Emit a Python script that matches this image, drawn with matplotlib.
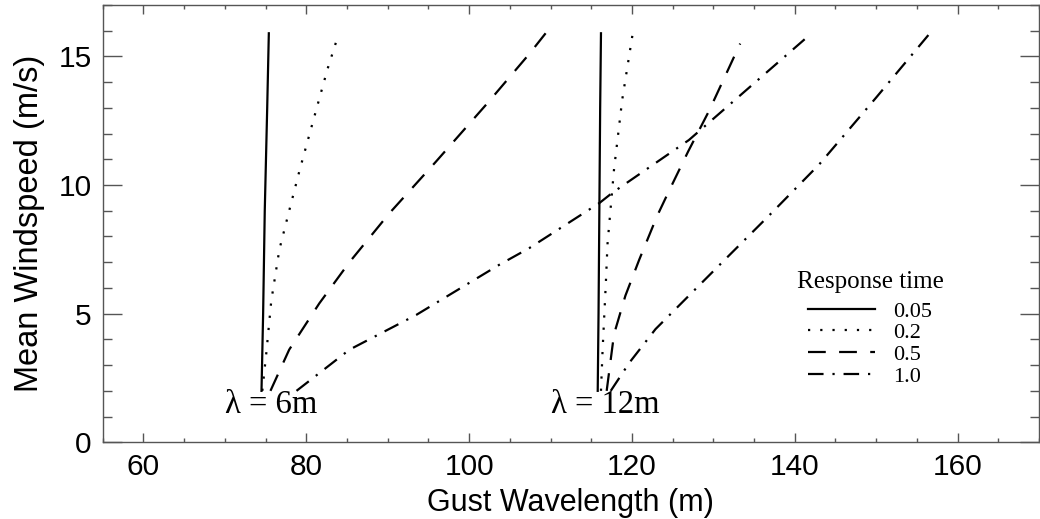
import matplotlib
matplotlib.use('Agg')
import matplotlib.pyplot as plt
from matplotlib.ticker import MultipleLocator

# lambda = 6 m curves (gust wavelength vs mean windspeed)
y6_005 = [2.0, 5.0, 9.0, 13.0, 15.9]
x6_005 = [74.5, 74.7, 74.9, 75.2, 75.4]
y6_02 = [2.0, 3.5, 5.5, 7.5, 9.0, 10.6, 12.9, 14.5, 15.7]
x6_02 = [74.6, 75.1, 75.7, 76.7, 77.9, 79.2, 81.2, 82.6, 83.8]
y6_05 = [2.0, 3.6, 5.4, 7.0, 8.9, 10.9, 13.2, 15.1, 15.9]
x6_05 = [75.6, 77.9, 81.6, 85.3, 90.2, 95.9, 102.3, 107.4, 109.4]
y6_10 = [2.0, 3.6, 4.95, 6.9, 7.55, 9.3, 9.7, 11.75, 15.8]
x6_10 = [78.8, 85.3, 93.5, 103.7, 107.4, 116.0, 117.6, 127.0, 141.7]

# lambda = 12 m curves
y12_005 = [2.0, 5.0, 9.0, 13.0, 15.9]
x12_005 = [115.8, 115.9, 116.0, 116.1, 116.2]
y12_02 = [2.0, 3.6, 6.2, 7.7, 10.6, 13.3, 15.9]
x12_02 = [116.2, 116.4, 116.8, 117.0, 117.8, 118.8, 120.1]
y12_05 = [2.0, 4.2, 5.7, 7.1, 8.8, 9.8, 11.3, 12.9, 15.5]
x12_05 = [116.9, 117.8, 119.2, 120.9, 123.1, 124.6, 126.9, 129.5, 133.3]
y12_10 = [2.0, 3.1, 4.4, 5.7, 7.0, 8.8, 10.8, 13.4, 15.9]
x12_10 = [117.4, 119.7, 122.9, 127.0, 131.1, 136.8, 143.0, 150.0, 156.6]

resp_labels = ['0.05', '0.2', '0.5', '1.0']
styles = ['-', (0, (1, 4.5)), (0, (8, 6)), (0, (7, 4, 1, 4))]

fig = plt.figure(figsize=(10.4, 5.19), dpi=100)
ax = fig.add_axes([0.0988, 0.1478, 0.9002, 0.8426])

curves6 = [(x6_005, y6_005), (x6_02, y6_02), (x6_05, y6_05), (x6_10, y6_10)]
curves12 = [(x12_005, y12_005), (x12_02, y12_02), (x12_05, y12_05), (x12_10, y12_10)]

for (xs, ys), ls, lab in zip(curves6, styles, resp_labels):
    ax.plot(xs, ys, color='black', lw=1.6, ls=ls, label=lab)
for (xs, ys), ls in zip(curves12, styles):
    ax.plot(xs, ys, color='black', lw=1.6, ls=ls)

serif = ['Liberation Serif', 'DejaVu Serif']
sans = ['Liberation Sans', 'DejaVu Sans']
ax.text(70, 1.45, '\u03bb = 6m', family=serif, fontsize=23.5, va='center', ha='left')
ax.text(110, 1.45, '\u03bb = 12m', family=serif, fontsize=23.5, va='center', ha='left')

ax.set_xlim(55, 170)
ax.set_ylim(0, 17)
ax.xaxis.set_major_locator(MultipleLocator(20))
ax.xaxis.set_minor_locator(MultipleLocator(5))
ax.yaxis.set_major_locator(MultipleLocator(5))
ax.yaxis.set_minor_locator(MultipleLocator(1))

spine_col = '#555555'
for s in ax.spines.values():
    s.set_color(spine_col)
    s.set_linewidth(1.0)

ax.tick_params(axis='both', which='both', direction='in', top=True, right=True,
               color=spine_col, width=1.0, labelsize=21.5)
ax.tick_params(axis='x', which='major', length=6.7, pad=8)
ax.tick_params(axis='x', which='minor', length=3.2)
ax.tick_params(axis='y', which='major', length=13.4, pad=8)
ax.tick_params(axis='y', which='minor', length=6.7)

for lab in ax.get_xticklabels() + ax.get_yticklabels():
    lab.set_family(sans)

ax.set_xlabel('Gust Wavelength (m)', fontsize=22, family=sans, labelpad=5)
ax.set_ylabel('Mean Windspeed (m/s)', fontsize=23.5, family=sans, labelpad=10)

# legend title placed separately to get the wider gap above the entries
fig.text(870 / 1040, 1 - 282 / 519, 'Response time', family=serif, fontsize=18,
         ha='center', va='center')
leg = ax.legend(loc='upper center', bbox_to_anchor=(870 / 1040, 1 - 301 / 519),
                bbox_transform=fig.transFigure, frameon=False,
                prop={'family': serif, 'size': 16},
                handlelength=3.0, handletextpad=0.8, labelspacing=0.05, borderpad=0,
                borderaxespad=0)

fig.savefig('out.png', dpi=100)
